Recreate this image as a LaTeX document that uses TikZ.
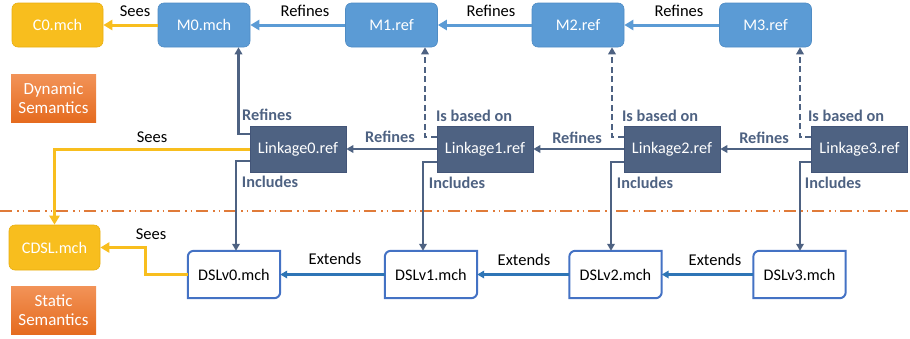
\documentclass[tikz,border=0pt]{standalone}
\usepackage{fontspec}
\setmainfont{Carlito}
\usetikzlibrary{arrows.meta,calc}
\definecolor{mblue}{HTML}{5B9BD5}
\definecolor{mblueb}{HTML}{4F8CC4}
\definecolor{ylw}{HTML}{F8BE1E}
\definecolor{ylwb}{HTML}{E8AE10}
\definecolor{slate}{HTML}{4E6282}
\definecolor{slateb}{HTML}{435578}
\definecolor{dslb}{HTML}{4472C4}
\definecolor{extc}{HTML}{2E75B6}
\definecolor{orgtop}{HTML}{F29358}
\definecolor{orgbot}{HTML}{E56B1F}
\definecolor{sepc}{HTML}{E07B39}
\begin{document}
\begin{tikzpicture}[x=1pt,y=-1pt,
  bfont/.style={font=\fontsize{16.2}{18}\selectfont},
  mbox/.style={draw=mblueb,fill=mblue,rounded corners=6pt,minimum width=92pt,minimum height=44pt,text=white,bfont,line width=0.6pt},
  ybox/.style={draw=ylwb,fill=ylw,rounded corners=6pt,minimum width=91pt,minimum height=44pt,text=white,bfont,line width=0.6pt},
  lbox/.style={draw=slateb,fill=slate,minimum width=96pt,minimum height=46pt,text=white,bfont,line width=0.6pt},
  dbox/.style={minimum width=92pt,minimum height=47pt,text=black,bfont},
  obox/.style={top color=orgtop,bottom color=orgbot,draw=none,minimum width=85pt,minimum height=48pt,text=white,align=center,font=\fontsize{17}{19}\selectfont},
  dslline/.style={draw=dslb,line width=2pt},
  yarr/.style={draw=ylw,line width=3pt,-{Triangle[length=9pt,width=10pt]}},
  barr/.style={draw=mblue,line width=3pt,-{Triangle[length=9pt,width=10pt]}},
  sarr/.style={draw=slate,line width=2.2pt,-{Triangle[length=7pt,width=7.5pt]}},
  sdash/.style={sarr,dash pattern=on 6pt off 3.5pt},
  earr/.style={draw=extc,line width=2.2pt,-{Triangle[length=7pt,width=7.5pt]}},
  blab/.style={text=black,font=\fontsize{16.5}{18}\selectfont},
  slab/.style={text=slate,font=\bfseries\fontsize{16.3}{18}\selectfont},
]
\useasboundingbox (0,0) rectangle (910,338);

% separator
\draw[sepc,line width=1.5pt,dash pattern=on 12pt off 5pt on 1.5pt off 4pt on 1.5pt off 4pt] (0,211) -- (910,211);

% top row
\node[ybox] (C0) at (57.5,25) {C0.mch};
\node[mbox] (M0) at (204,25) {M0.mch};
\node[mbox] (M1) at (391.5,25) {M1.ref};
\node[mbox] (M2) at (578,25) {M2.ref};
\node[mbox] (M3) at (765.5,25) {M3.ref};

% semantics labels
\node[obox] (dyn) at (53.5,98) {Dynamic\\Semantics};
\node[obox] (sta) at (53.5,310) {Static\\Semantics};

% linkage row
\node[lbox] (L0) at (298,149) {Linkage0.ref};
\node[lbox] (L1) at (485,149) {Linkage1.ref};
\node[lbox] (L2) at (672,149) {Linkage2.ref};
\node[lbox] (L3) at (859.5,149) {Linkage3.ref};

% static row
\node[ybox,minimum height=45pt] (CDSL) at (54.5,247.5) {CDSL.mch};
\node[dbox] (D0) at (234,274.5) {DSLv0.mch};
\node[dbox] (D1) at (431,274.5) {DSLv1.mch};
\node[dbox] (D2) at (615.5,274.5) {DSLv2.mch};
\node[dbox] (D3) at (799.5,274.5) {DSLv3.mch};
\foreach \n in {D0,D1,D2,D3}{
  \draw[dslline] ([xshift=6pt]\n.north west) -- (\n.north east) -- ([yshift=6pt]\n.south east)
    arc[start angle=0,end angle=-90,radius=6pt] -- (\n.south west) -- ([yshift=-6pt]\n.north west)
    arc[start angle=180,end angle=90,radius=6pt] -- cycle;
}

% top arrows
\draw[yarr] (M0.west) -- (C0.east);
\draw[barr] (M1.west) -- (M0.east);
\draw[barr] (M2.west) -- (M1.east);
\draw[barr] (M3.west) -- (M2.east);
\node[blab] at (135,11) {Sees};
\node[blab] at (305,11) {Refines};
\node[blab] at (491,11) {Refines};
\node[blab] at (679,11) {Refines};

% linkage to machines
\draw[sarr] ([yshift=15pt]L0.west) -| ([xshift=34.5pt]M0.south);
\draw[sdash] ([yshift=12pt]L1.west) -| ([xshift=33.5pt]M1.south);
\draw[sdash] ([yshift=12pt]L2.west) -| ([xshift=34pt]M2.south);
\draw[sdash] ([yshift=12pt]L3.west) -| ([xshift=34.5pt]M3.south);
\node[slab] at (267,115) {Refines};
\node[slab] at (474,116) {Is based on};
\node[slab] at (660,116) {Is based on};
\node[slab] at (846,116) {Is based on};

% linkage refines
\draw[sarr] (L1.west) -- (L0.east);
\draw[sarr] (L2.west) -- (L1.east);
\draw[sarr] (L3.west) -- (L2.east);
\node[slab] at (390,137) {Refines};
\node[slab] at (577,138) {Refines};
\node[slab] at (764,138) {Refines};

% includes
\draw[sarr] ([yshift=-12pt]L0.west) -| ([xshift=2pt]D0.north);
\draw[sarr] ([yshift=-13pt]L1.west) -| ([xshift=-8pt]D1.north);
\draw[sarr] ([yshift=-13pt]L2.west) -| ([xshift=-4.5pt]D2.north);
\draw[sarr] ([yshift=-13pt]L3.west) -| ([xshift=0.5pt]D3.north);
\node[slab] at (270,182) {Includes};
\node[slab] at (457,183) {Includes};
\node[slab] at (645,183) {Includes};
\node[slab] at (833,183) {Includes};

% sees (yellow)
\draw[yarr] (L0.west) -| (CDSL.north);
\node[blab] at (152,137) {Sees};
\draw[yarr] (D0.west) -- ++(-42,0) |- (CDSL.east);
\node[blab] at (151,234) {Sees};

% extends
\draw[earr] (D1.west) -- (D0.east);
\draw[earr] (D2.west) -- (D1.east);
\draw[earr] (D3.west) -- (D2.east);
\node[blab] at (335,259) {Extends};
\node[blab] at (524,260) {Extends};
\node[blab] at (715,260) {Extends};
\end{tikzpicture}
\end{document}
